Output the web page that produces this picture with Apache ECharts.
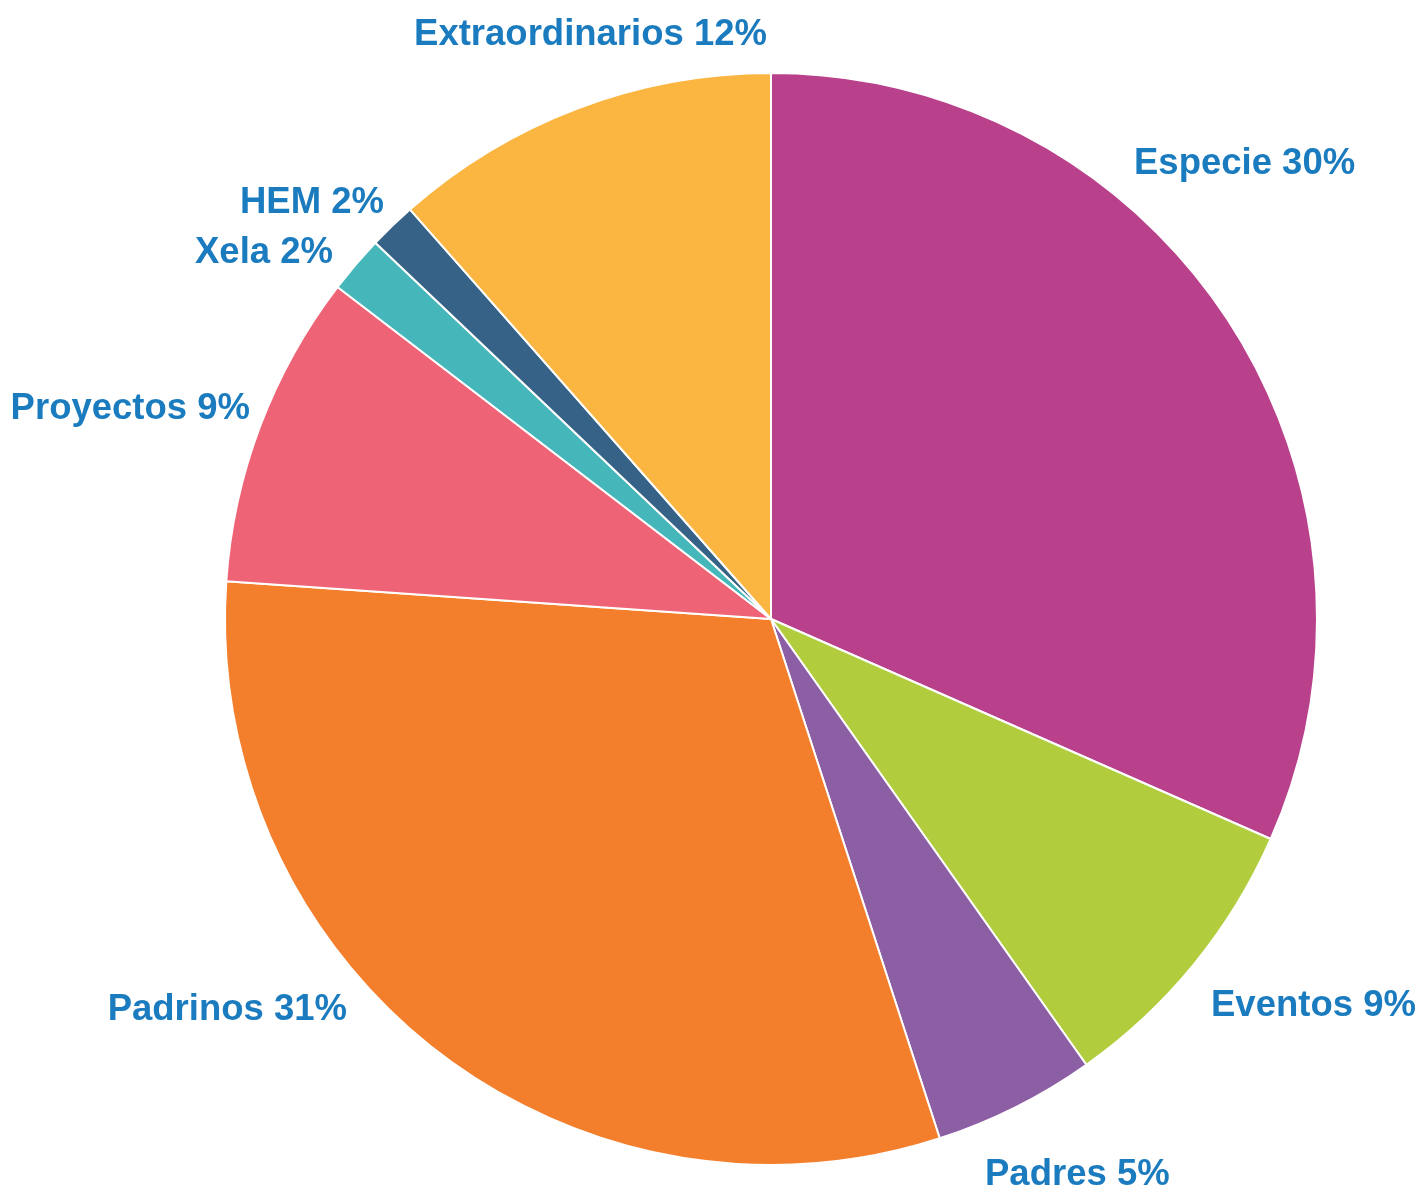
<!DOCTYPE html>
<html>
<head>
<meta charset="utf-8">
<script src="https://cdn.jsdelivr.net/npm/echarts@6/dist/echarts.min.js"></script>
<style>
  html, body { margin: 0; padding: 0; background: #fff; }
  #chart { width: 1421px; height: 1191px; }
</style>
</head>
<body>
<div id="chart"></div>
<script>
const categories = ["Especie", "Eventos", "Padres", "Padrinos", "Proyectos", "Xela", "HEM", "Extraordinarios"];
// slice sizes
const values = [31.6, 8.6, 4.8, 31.1, 9.3, 1.7, 1.4, 11.5];
// percentages as printed on the labels
const pctLabels = ["30%", "9%", "5%", "31%", "9%", "2%", "2%", "12%"];
const colors = ["#b9408a", "#b1cd3e", "#8c5fa5", "#f37f2c", "#ef6376", "#45b7bb", "#366287", "#fbb642"];

// where each label sits (anchor x, middle y, which side the anchor is on)
const labelSpots = [
  [1134, 164, "left"],
  [1211, 1006, "left"],
  [985, 1175, "left"],
  [347, 1010, "right"],
  [250, 409, "right"],
  [333, 253, "right"],
  [384, 203, "right"],
  [767, 35, "right"]
];

const chart = echarts.init(document.getElementById("chart"));

const option = {
  animation: false,
  color: colors,
  series: [
    {
      type: "pie",
      center: [771, 619],
      radius: 546,
      startAngle: 90,
      clockwise: true,
      avoidLabelOverlap: false,
      itemStyle: { borderColor: "#fff", borderWidth: 2 },
      label: {
        show: true,
        position: "outside",
        overflow: "none",
        fontFamily: "Liberation Sans, Arial, sans-serif",
        fontWeight: "bold",
        fontSize: 36.5,
        color: "#1b7bbf",
        formatter: (p) => p.name + " " + pctLabels[p.dataIndex]
      },
      labelLine: { show: false },
      labelLayout: (p) => {
        const s = labelSpots[p.dataIndex];
        return { x: s[0], y: s[1], align: s[2], verticalAlign: "middle" };
      },
      data: categories.map((name, i) => ({ name, value: values[i] }))
    }
  ]
};

chart.setOption(option);
</script>
</body>
</html>
